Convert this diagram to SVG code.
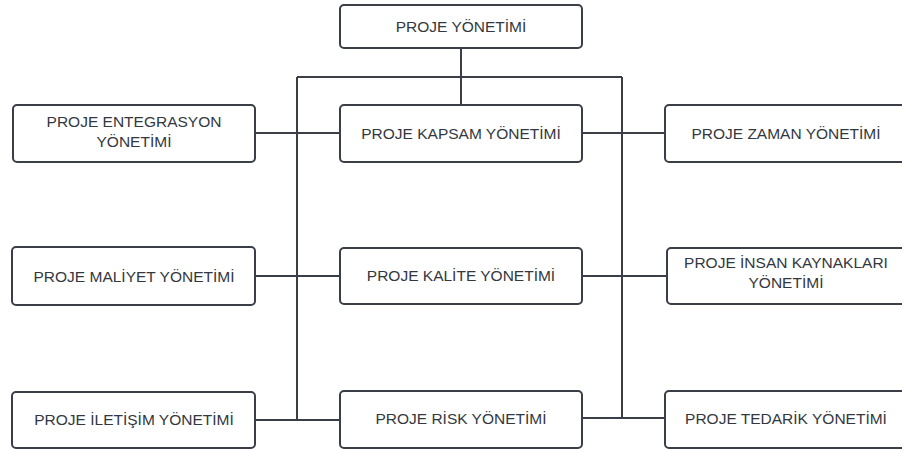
<svg xmlns="http://www.w3.org/2000/svg" width="902" height="450" viewBox="0 0 902 450">
<style>
.box{fill:#ffffff;stroke:#3a3f47;stroke-width:2}
.lbl{font-family:"Liberation Sans",Arial,sans-serif;font-size:15.5px;fill:#333840;text-anchor:middle}
.ln{fill:none;stroke:#3a3f47;stroke-width:2}
</style>
<rect width="902" height="450" fill="#ffffff"/>
<g id="connectors">
<path class="ln" d="M461,48 V105"/>
<path class="ln" d="M297,77 H622"/>
<path class="ln" d="M297,77 V420"/>
<path class="ln" d="M622,77 V418"/>
<path class="ln" d="M255,133 H340"/>
<path class="ln" d="M582,133 H665"/>
<path class="ln" d="M255,276 H340"/>
<path class="ln" d="M582,276 H667"/>
<path class="ln" d="M255,420 H340"/>
<path class="ln" d="M582,418 H665"/>
</g>
<g id="n-proje">
<rect class="box" x="340" y="5" width="242" height="43" rx="4"/>
<text class="lbl" x="461" y="32">PROJE YÖNETİMİ</text>
</g>
<g id="n-entegrasyon">
<rect class="box" x="13" y="105" width="242" height="57" rx="4"/>
<text class="lbl" x="134" y="127">PROJE ENTEGRASYON</text>
<text class="lbl" x="134" y="147">YÖNETİMİ</text>
</g>
<g id="n-kapsam">
<rect class="box" x="340" y="105" width="242" height="57" rx="4"/>
<text class="lbl" x="461" y="139">PROJE KAPSAM YÖNETİMİ</text>
</g>
<g id="n-zaman">
<rect class="box" x="665" y="105" width="242" height="57" rx="4"/>
<text class="lbl" x="786" y="139">PROJE ZAMAN YÖNETİMİ</text>
</g>
<g id="n-maliyet">
<rect class="box" x="12" y="247" width="243" height="58" rx="4"/>
<text class="lbl" x="134" y="282">PROJE MALİYET YÖNETİMİ</text>
</g>
<g id="n-kalite">
<rect class="box" x="340" y="248" width="242" height="56" rx="4"/>
<text class="lbl" x="461" y="281">PROJE KALİTE YÖNETİMİ</text>
</g>
<g id="n-insan">
<rect class="box" x="667" y="248" width="242" height="56" rx="4"/>
<text class="lbl" x="786" y="268">PROJE İNSAN KAYNAKLARI</text>
<text class="lbl" x="786" y="288">YÖNETİMİ</text>
</g>
<g id="n-iletisim">
<rect class="box" x="12" y="392" width="243" height="56" rx="4"/>
<text class="lbl" x="134" y="425">PROJE İLETİŞİM YÖNETİMİ</text>
</g>
<g id="n-risk">
<rect class="box" x="340" y="391" width="242" height="57" rx="4"/>
<text class="lbl" x="461" y="424">PROJE RİSK YÖNETİMİ</text>
</g>
<g id="n-tedarik">
<rect class="box" x="665" y="391" width="242" height="57" rx="4"/>
<text class="lbl" x="786" y="424">PROJE TEDARİK YÖNETİMİ</text>
</g>
</svg>
